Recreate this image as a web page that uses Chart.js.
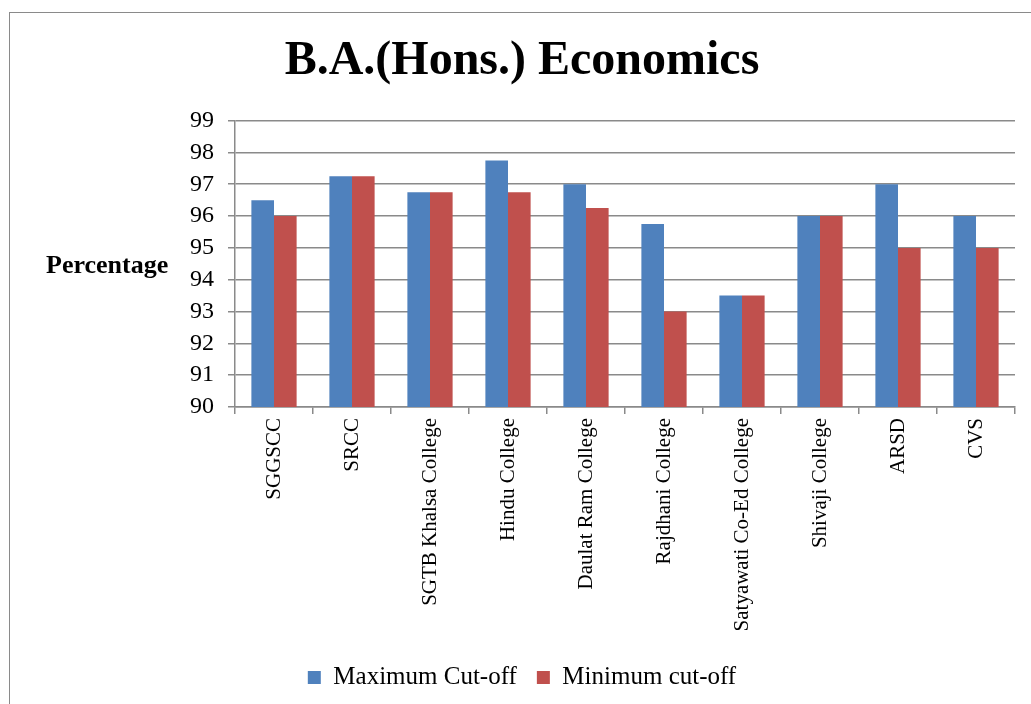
<!DOCTYPE html>
<html>
<head>
<meta charset="utf-8">
<script src="https://cdn.jsdelivr.net/npm/chart.js@4"></script>
<style>
  body { margin: 0; background: #fff; overflow: hidden; }
  #wrap { position: relative; width: 1031px; height: 704px; }
  #frame { position: absolute; left: 9px; top: 12px; width: 1060px; height: 740px; border: 1.5px solid #8a8a8a; }
  #chart { position: absolute; left: 0; top: 0; }
</style>
</head>
<body>
<div id="wrap">
  <div id="frame"></div>
  <canvas id="chart" width="1031" height="704"></canvas>
</div>
<script>
// Chart data
const colleges = ['SGGSCC', 'SRCC', 'SGTB Khalsa College', 'Hindu College', 'Daulat Ram College',
  'Rajdhani College', 'Satyawati Co-Ed College', 'Shivaji College', 'ARSD', 'CVS'];
const maxCutoff = [96.5, 97.25, 96.75, 97.75, 97, 95.75, 93.5, 96, 97, 96];
const minCutoff = [96, 97.25, 96.75, 96.75, 96.25, 93, 93.5, 96, 95, 95];
const yMin = 90;
const yMax = 99;
const yStep = 1;

const serif = "'Liberation Serif', 'Times New Roman', serif";
Chart.defaults.font.family = serif;
Chart.defaults.color = '#000';

// horizontal "Percentage" axis label on the left
const yLabelPlugin = {
  id: 'yLabel',
  afterDraw(chart) {
    const ctx = chart.ctx;
    ctx.save();
    ctx.font = 'bold 26px ' + serif;
    ctx.fillStyle = '#000';
    ctx.textAlign = 'left';
    ctx.textBaseline = 'middle';
    ctx.fillText('Percentage', 46, 266);
    ctx.restore();
  }
};

const canvas = document.getElementById('chart');
new Chart(canvas, {
  type: 'bar',
  data: {
    labels: colleges,
    datasets: [{
      label: 'Maximum Cut-off',
      data: maxCutoff,
      backgroundColor: '#4F81BD',
      borderWidth: 0
    }, {
      label: 'Minimum cut-off',
      data: minCutoff,
      backgroundColor: '#C0504D',
      borderWidth: 0
    }]
  },
  options: {
    responsive: false,
    animation: false,
    categoryPercentage: 0.58,
    barPercentage: 1.0,
    layout: {
      padding: { left: 29, right: 16, top: 10, bottom: 4 }
    },
    plugins: {
      title: {
        display: true,
        text: 'B.A.(Hons.) Economics',
        font: { size: 48, weight: 'bold' },
        color: '#000',
        padding: { top: 23, bottom: 30 }
      },
      legend: {
        position: 'bottom',
        labels: {
          boxWidth: 13,
          boxHeight: 13,
          padding: 20,
          font: { size: 25 },
          color: '#000'
        }
      },
      tooltip: { enabled: false }
    },
    scales: {
      x: {
        grid: {
          drawOnChartArea: false,
          color: '#8a8a8a',
          lineWidth: 1.5,
          tickLength: 7
        },
        border: { color: '#8a8a8a', width: 1.5 },
        ticks: {
          maxRotation: 90,
          minRotation: 90,
          autoSkip: false,
          padding: 4,
          font: { size: 21 },
          color: '#000'
        },
        afterFit: function(scale) {
          scale.height = 238;
        }
      },
      y: {
        min: yMin,
        max: yMax,
        grid: {
          color: '#8a8a8a',
          lineWidth: 1.5,
          tickLength: 7
        },
        border: { color: '#8a8a8a', width: 1.5 },
        ticks: {
          stepSize: yStep,
          padding: 14,
          font: { size: 24 },
          color: '#000'
        },
        afterFit: function(scale) {
          scale.width = 206;
        }
      }
    }
  },
  plugins: [yLabelPlugin]
});
</script>
</body>
</html>
